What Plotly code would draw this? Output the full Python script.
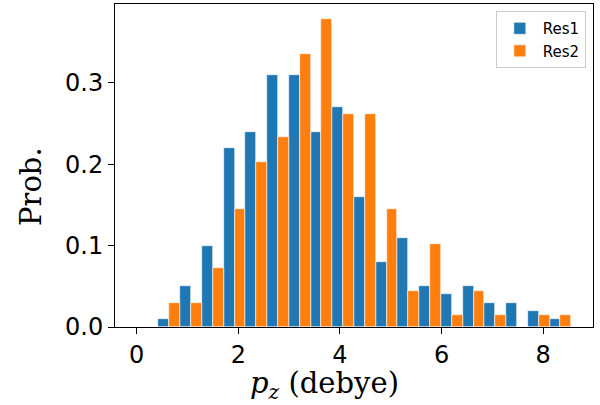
import plotly.graph_objects as go

bin_width = 0.4277
n_bins = 20
bin_left = [i * bin_width for i in range(n_bins)]

res1 = [0.0, 0.01, 0.05, 0.10, 0.22, 0.24, 0.31, 0.31, 0.24, 0.27, 0.16,
        0.08, 0.11, 0.05, 0.04, 0.05, 0.03, 0.03, 0.02, 0.01]
res2 = [0.0, 0.029, 0.029, 0.073, 0.145, 0.203, 0.233, 0.335, 0.378, 0.262, 0.262,
        0.145, 0.044, 0.102, 0.0145, 0.044, 0.0145, 0.0, 0.0145, 0.0145]

x_ticks = [0, 2, 4, 6, 8]
y_ticks = [0.0, 0.1, 0.2, 0.3]
y_tick_text = ["0.0", "0.1", "0.2", "0.3"]

x1 = [b + bin_width / 4 for b in bin_left]
x2 = [b + 3 * bin_width / 4 for b in bin_left]

fig = go.Figure()
fig.add_trace(go.Bar(x=x1, y=res1, width=bin_width / 2, name="Res1",
                     marker=dict(color="#1f77b4", line=dict(color="white", width=0.6))))
fig.add_trace(go.Bar(x=x2, y=res2, width=bin_width / 2, name="Res2",
                     marker=dict(color="#ff7f0e", line=dict(color="white", width=0.6))))

data_max = bin_width * n_bins
pad = 0.05 * data_max
fig.update_layout(
    width=600, height=405,
    margin=dict(l=115, r=7, t=4, b=78, autoexpand=False),
    paper_bgcolor="white", plot_bgcolor="white",
    barmode="overlay", bargap=0,
    showlegend=True,
    legend=dict(x=0.985, y=0.978, xanchor="right", yanchor="top",
                bgcolor="white", bordercolor="#cccccc", borderwidth=1,
                font=dict(family="DejaVu Sans", size=15, color="black"),
                itemwidth=36, tracegroupgap=4),
    xaxis=dict(range=[-pad, data_max + pad], tickvals=x_ticks, automargin=False,
               ticks="outside", ticklen=6, tickwidth=1, tickcolor="black",
               showline=True, linecolor="black", linewidth=1, mirror=True,
               showgrid=False, zeroline=False,
               tickfont=dict(family="DejaVu Sans", size=24, color="black")),
    yaxis=dict(range=[0, 0.397], tickvals=y_ticks, ticktext=y_tick_text, automargin=False,
               ticks="outside", ticklen=6, tickwidth=1, tickcolor="black",
               showline=True, linecolor="black", linewidth=1, mirror=True,
               showgrid=False, zeroline=False,
               tickfont=dict(family="DejaVu Sans", size=24, color="black")),
    annotations=[
        dict(text="Prob.", xref="paper", yref="paper",
             x=(31 - 115) / 478, y=(327 - 187) / 323, xanchor="center", yanchor="middle",
             textangle=-90, showarrow=False,
             font=dict(family="DejaVu Serif", size=29, color="black")),
        dict(text="<i>p</i><sub><i>z</i></sub> (debye)", xref="paper", yref="paper",
             x=(324 - 115) / 478, y=-(385 - 327) / 323, xanchor="center", yanchor="middle",
             showarrow=False,
             font=dict(family="DejaVu Serif", size=29, color="black")),
    ],
)

fig.write_html("out.html", config={"displayModeBar": False},
               post_script="document.body.style.margin='0';")
